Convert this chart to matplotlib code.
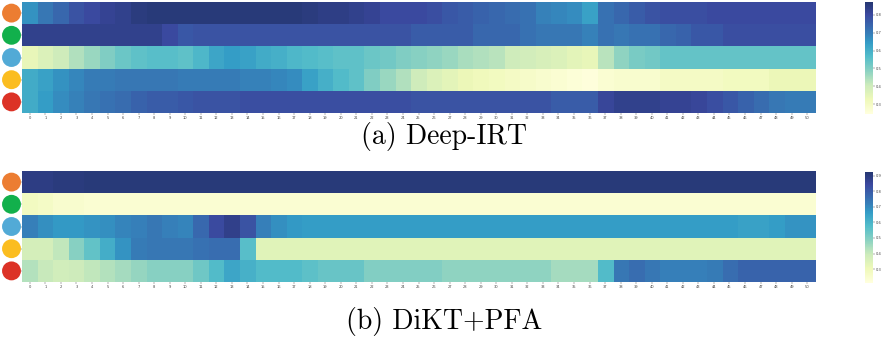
import numpy as np
import matplotlib
import matplotlib.pyplot as plt
from matplotlib.colors import ListedColormap
from matplotlib.transforms import blended_transform_factory

# skill rows (top to bottom) and their marker colours
skill_labels = ["0", "1", "2", "3", "4"]
skill_colors = ["#ec7d32", "#12b04c", "#52aad6", "#fbbd20", "#dc3226"]
steps = list(range(51))

# predicted mastery per step, Deep-IRT
deepirt_r1 = [0.66, 0.71, 0.74, 0.78, 0.80, 0.82, 0.83, 0.85, 0.86, 0.86, 0.86, 0.86, 0.86, 0.86, 0.86,
              0.86, 0.86, 0.86, 0.85, 0.84, 0.84, 0.83, 0.82, 0.80, 0.80, 0.80, 0.79, 0.77, 0.76, 0.75,
              0.74, 0.73, 0.72, 0.69, 0.68, 0.67, 0.63, 0.72, 0.74, 0.76, 0.78, 0.79, 0.79, 0.79, 0.80,
              0.80, 0.80, 0.80, 0.80, 0.80, 0.80]
deepirt_r2 = [0.83, 0.83, 0.83, 0.83, 0.83, 0.83, 0.83, 0.83, 0.83, 0.80, 0.77, 0.78, 0.78, 0.78, 0.78,
              0.78, 0.78, 0.78, 0.78, 0.78, 0.78, 0.78, 0.78, 0.78, 0.78, 0.76, 0.76, 0.76, 0.76, 0.74,
              0.74, 0.74, 0.72, 0.71, 0.71, 0.71, 0.69, 0.72, 0.71, 0.72, 0.72, 0.74, 0.75, 0.77, 0.77,
              0.79, 0.79, 0.79, 0.79, 0.79, 0.79]
deepirt_r3 = [0.34, 0.37, 0.40, 0.44, 0.47, 0.50, 0.53, 0.55, 0.56, 0.56, 0.55, 0.58, 0.62, 0.64, 0.63,
              0.61, 0.60, 0.58, 0.57, 0.56, 0.55, 0.55, 0.53, 0.52, 0.50, 0.49, 0.48, 0.47, 0.45, 0.44,
              0.43, 0.40, 0.39, 0.38, 0.37, 0.35, 0.34, 0.43, 0.48, 0.51, 0.52, 0.54, 0.54, 0.54, 0.54,
              0.54, 0.54, 0.54, 0.54, 0.54, 0.54]
deepirt_r4 = [0.61, 0.63, 0.66, 0.68, 0.70, 0.70, 0.71, 0.71, 0.71, 0.71, 0.70, 0.70, 0.70, 0.70, 0.69,
              0.69, 0.68, 0.67, 0.63, 0.60, 0.57, 0.55, 0.50, 0.47, 0.44, 0.40, 0.37, 0.35, 0.33, 0.32,
              0.31, 0.30, 0.29, 0.28, 0.27, 0.26, 0.25, 0.27, 0.28, 0.28, 0.28, 0.30, 0.30, 0.30, 0.30,
              0.31, 0.31, 0.31, 0.33, 0.33, 0.33]
deepirt_r5 = [0.61, 0.64, 0.67, 0.69, 0.71, 0.72, 0.73, 0.75, 0.76, 0.76, 0.77, 0.78, 0.78, 0.78, 0.79,
              0.79, 0.79, 0.79, 0.79, 0.79, 0.79, 0.79, 0.79, 0.79, 0.79, 0.78, 0.78, 0.78, 0.78, 0.78,
              0.78, 0.78, 0.78, 0.78, 0.76, 0.76, 0.76, 0.81, 0.83, 0.83, 0.83, 0.82, 0.82, 0.81, 0.79,
              0.77, 0.75, 0.73, 0.71, 0.70, 0.70]

# predicted mastery per step, DiKT+PFA
dikt_r1 = [0.89, 0.89, 0.90, 0.90, 0.91, 0.91, 0.91, 0.91, 0.91, 0.91, 0.91, 0.91, 0.91, 0.91, 0.91,
           0.91, 0.91, 0.91, 0.91, 0.91, 0.91, 0.91, 0.91, 0.91, 0.91, 0.91, 0.91, 0.91, 0.91, 0.91,
           0.91, 0.91, 0.91, 0.91, 0.91, 0.91, 0.91, 0.91, 0.91, 0.91, 0.91, 0.91, 0.91, 0.91, 0.91,
           0.91, 0.91, 0.91, 0.91, 0.91, 0.91]
dikt_r2 = [0.28, 0.27, 0.25, 0.25, 0.24, 0.24, 0.24, 0.24, 0.24, 0.24, 0.24, 0.24, 0.24, 0.24, 0.24,
           0.24, 0.24, 0.24, 0.24, 0.24, 0.24, 0.24, 0.24, 0.24, 0.24, 0.24, 0.24, 0.24, 0.24, 0.24,
           0.24, 0.24, 0.24, 0.24, 0.24, 0.24, 0.24, 0.24, 0.24, 0.24, 0.24, 0.24, 0.24, 0.24, 0.24,
           0.24, 0.24, 0.24, 0.24, 0.24, 0.24]
dikt_r3 = [0.72, 0.69, 0.67, 0.67, 0.68, 0.69, 0.71, 0.72, 0.74, 0.72, 0.71, 0.77, 0.84, 0.88, 0.82,
           0.72, 0.69, 0.67, 0.66, 0.66, 0.66, 0.66, 0.66, 0.66, 0.66, 0.66, 0.66, 0.66, 0.66, 0.66,
           0.66, 0.66, 0.66, 0.66, 0.66, 0.66, 0.66, 0.66, 0.66, 0.66, 0.66, 0.66, 0.66, 0.66, 0.66,
           0.66, 0.65, 0.65, 0.66, 0.68, 0.68]
dikt_r4 = [0.37, 0.37, 0.41, 0.49, 0.55, 0.62, 0.68, 0.73, 0.74, 0.74, 0.74, 0.75, 0.76, 0.76, 0.57,
           0.34, 0.34, 0.34, 0.34, 0.34, 0.34, 0.34, 0.34, 0.34, 0.34, 0.34, 0.34, 0.34, 0.34, 0.34,
           0.34, 0.34, 0.34, 0.34, 0.34, 0.34, 0.34, 0.34, 0.34, 0.34, 0.34, 0.34, 0.34, 0.34, 0.34,
           0.34, 0.34, 0.34, 0.34, 0.34, 0.34]
dikt_r5 = [0.43, 0.40, 0.38, 0.39, 0.41, 0.43, 0.45, 0.47, 0.49, 0.49, 0.49, 0.53, 0.58, 0.64, 0.61,
           0.58, 0.58, 0.58, 0.56, 0.54, 0.54, 0.54, 0.50, 0.50, 0.50, 0.50, 0.50, 0.48, 0.48, 0.48,
           0.48, 0.48, 0.48, 0.48, 0.45, 0.45, 0.45, 0.58, 0.74, 0.76, 0.74, 0.72, 0.72, 0.72, 0.73,
           0.76, 0.78, 0.78, 0.78, 0.78, 0.78]

deepirt = np.array([deepirt_r1, deepirt_r2, deepirt_r3, deepirt_r4, deepirt_r5])
dikt = np.array([dikt_r1, dikt_r2, dikt_r3, dikt_r4, dikt_r5])

# softened YlGnBu: trim the darkest end a touch and wash it slightly towards white
base = plt.get_cmap("YlGnBu")(np.linspace(0.0, 0.98, 256))
base[:, :3] = base[:, :3] * 0.9 + 0.1
cmap = ListedColormap(base)

W, H = 888, 337
fig = plt.figure(figsize=(W / 100, H / 100), dpi=100)


def px_axes(x0, y0, x1, y1):
    # axes from pixel box (top-left origin)
    return fig.add_axes([x0 / W, 1 - y1 / H, (x1 - x0) / W, (y1 - y0) / H])


def draw_panel(data, box, cbox, vmin, vmax, cticks, caption, cap_y):
    ax = px_axes(*box)
    im = ax.imshow(data, cmap=cmap, vmin=vmin, vmax=vmax, aspect="auto",
                   interpolation="nearest")
    ax.set_xticks(steps)
    ax.set_xticklabels([str(s) for s in steps], fontsize=2.6, color="#444444")
    ax.set_yticks(range(len(skill_labels)))
    ax.set_yticklabels(skill_labels, fontsize=2.6, color="#444444")
    ax.tick_params(length=1.2, width=0.3, pad=1, colors="#444444")
    for sp in ax.spines.values():
        sp.set_visible(False)

    # coloured skill markers on the left
    tr = blended_transform_factory(fig.transFigure, ax.transData)
    ax.scatter([11.5 / W] * len(skill_colors), range(len(skill_colors)), s=185,
               c=skill_colors, transform=tr, clip_on=False, zorder=5, linewidths=0)

    cax = px_axes(*cbox)
    cb = fig.colorbar(im, cax=cax, ticks=cticks)
    cb.outline.set_visible(False)
    cb.ax.tick_params(labelsize=2.6, length=1.2, width=0.3, pad=1, colors="#444444")
    cb.ax.set_yticklabels([f"{t:.1f}" for t in cticks])

    fig.text(0.5, 1 - cap_y / H, caption, ha="center", va="center",
             fontsize=20, family="cmr10")


draw_panel(deepirt, (22, 2, 815, 113), (865, 2, 873, 114), 0.244, 0.873,
           [0.3, 0.4, 0.5, 0.6, 0.7, 0.8], "(a) Deep-IRT", 137)
draw_panel(dikt, (22, 171, 815, 282), (865, 172, 873, 283), 0.21, 0.925,
           [0.3, 0.4, 0.5, 0.6, 0.7, 0.8, 0.9], "(b) DiKT+PFA", 321)

fig.savefig("out.png", dpi=100)
